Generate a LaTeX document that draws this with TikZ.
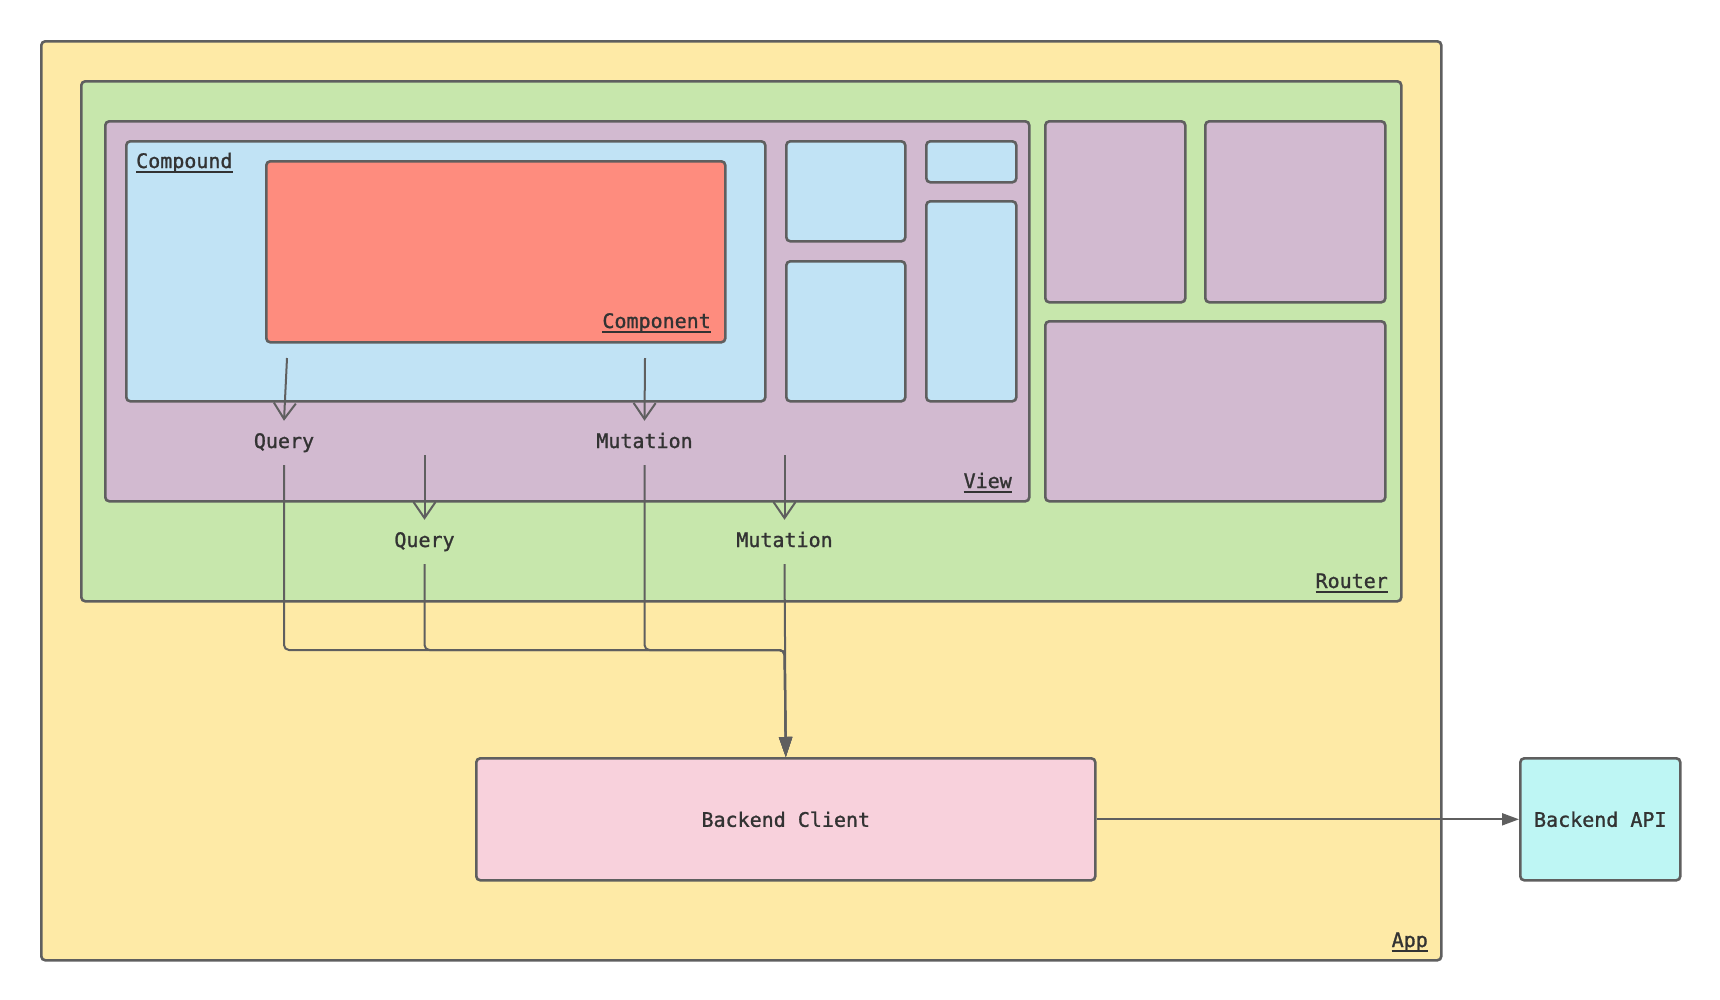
\documentclass[tikz,border=0pt]{standalone}
\usepackage{fontspec}
\newfontfamily\labelfont{DejaVu Sans Mono}[FakeBold=1.2]
\usetikzlibrary{arrows.meta}

\definecolor{edgegray}{HTML}{5F5F5F}
\definecolor{textgray}{HTML}{333333}
\definecolor{appyellow}{HTML}{FEEAA6}
\definecolor{routergreen}{HTML}{C7E7AC}
\definecolor{viewpurple}{HTML}{D2BAD0}
\definecolor{partblue}{HTML}{C1E3F5}
\definecolor{compsalmon}{HTML}{FE8C7E}
\definecolor{clientpink}{HTML}{F8D1DC}
\definecolor{apicyan}{HTML}{BEF6F4}

% underlined box title
\newcommand{\boxtitle}[1]{\setbox0\hbox{#1}\rlap{\rule[-4.5pt]{\wd0}{2pt}}\box0}

\begin{document}
\begin{tikzpicture}[
    x=1pt, y=-1pt,
    frame/.style={draw=edgegray, line width=2.6pt, rounded corners=4pt, inner sep=0pt, anchor=north west},
    title_style/.style={font=\labelfont\fontsize{20}{24}\selectfont, text=textgray, inner sep=0pt},
    msg/.style={font=\labelfont\fontsize{20}{24}\selectfont, text=textgray, text height=14pt, text depth=4pt, inner xsep=2pt, inner ysep=13pt},
    call/.style={draw=edgegray, line width=2pt, -{Straight Barb[length=16pt, width=22pt, line width=2pt]}},
    link/.style={draw=edgegray, line width=2pt, rounded corners=5pt, -{Triangle[length=20pt, width=13pt]}}
]
\useasboundingbox (0,0) rectangle (1720,999);

% Containers
\node[frame, fill=appyellow, minimum width=1400pt, minimum height=919pt] (app) at (40,40) {};
\node[frame, fill=routergreen, minimum width=1320pt, minimum height=520pt] (router) at (80,80) {};
\node[frame, fill=viewpurple, minimum width=924pt, minimum height=380pt] (view) at (104,120) {};
\node[frame, fill=partblue, minimum width=639pt, minimum height=260pt] (compound) at (125,140) {};
\node[frame, fill=compsalmon, minimum width=459pt, minimum height=181pt] (component) at (265,160) {};

% Other parts of the view
\node[frame, fill=partblue, minimum width=119pt, minimum height=100pt] (blue_a) at (785,140) {};
\node[frame, fill=partblue, minimum width=119pt, minimum height=140pt] (blue_b) at (785,260) {};
\node[frame, fill=partblue, minimum width=90pt, minimum height=41pt] (blue_c) at (925,140) {};
\node[frame, fill=partblue, minimum width=90pt, minimum height=200pt] (blue_d) at (925,200) {};

% Other views of the router
\node[frame, fill=viewpurple, minimum width=140pt, minimum height=181pt] (side_a) at (1044,120) {};
\node[frame, fill=viewpurple, minimum width=180pt, minimum height=181pt] (side_b) at (1204,120) {};
\node[frame, fill=viewpurple, minimum width=340pt, minimum height=180pt] (side_c) at (1044,320) {};

% Backend
\node[frame, fill=clientpink, minimum width=619pt, minimum height=122pt] (client) at (475,757) {};
\node[title_style] (client_text) at (client.center) {Backend Client};
\node[frame, fill=apicyan, minimum width=160pt, minimum height=122pt] (api) at (1519,757) {};
\node[title_style] (api_text) at (api.center) {Backend API};

% Titles
\node[title_style, anchor=base west] (compound_title) at (136,168) {\boxtitle{Compound}};
\node[title_style, anchor=base east] (component_title) at (711,328) {\boxtitle{Component}};
\node[title_style, anchor=base east] (view_title) at (1012,488) {\boxtitle{View}};
\node[title_style, anchor=base east] (router_title) at (1388,588) {\boxtitle{Router}};
\node[title_style, anchor=base east] (app_title) at (1428,947) {\boxtitle{App}};

% Queries and mutations
\node[msg] (query_a) at (284,443) {Query};
\node[msg] (mutation_a) at (644.5,443) {Mutation};
\node[msg] (query_b) at (424.5,542) {Query};
\node[msg] (mutation_b) at (784.5,542) {Mutation};

\coordinate (query_a_src) at (287,358);
\coordinate (mutation_a_src) at (645,358);
\coordinate (query_b_src) at (424.5,455);
\coordinate (mutation_b_src) at (784.5,455);
\coordinate (merge) at (784.5,650);

\draw[call] (query_a_src) -- (query_a.north);
\draw[call] (mutation_a_src) -- (mutation_a.north);
\draw[call] (query_b_src) -- (query_b.north);
\draw[call] (mutation_b_src) -- (mutation_b.north);

% Everything goes through the backend client
\draw[link] (query_a.south) |- (merge) -- (client.north);
\draw[link] (query_b.south) |- (merge) -- (client.north);
\draw[link] (mutation_a.south) |- (merge) -- (client.north);
\draw[link] (mutation_b.south) -- (client.north);
\draw[link, -{Triangle[length=17pt, width=12pt]}] (client.east) -- (api.west);

\end{tikzpicture}
\end{document}
